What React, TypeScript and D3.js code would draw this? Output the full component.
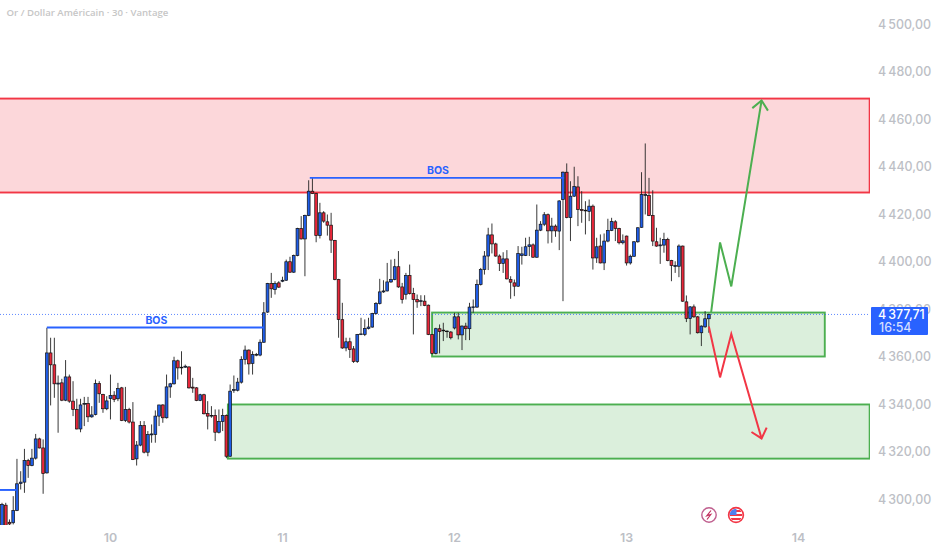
import * as d3 from 'd3';
import { useRef, useEffect } from 'react';

// 30 min gold candles (bar index 0 = left edge)
const opens = [
  4288.6, 4297.4, 4290.2, 4290.0, 4295.2, 4306.5, 4307.1, 4316.2, 4314.1, 4317.2,
  4325.3, 4321.5, 4311.0, 4361.5, 4356.5, 4348.4, 4348.9, 4341.6, 4351.4, 4341.2,
  4337.7, 4329.5, 4339.9, 4340.2, 4334.6, 4335.6, 4348.6, 4344.0, 4338.0, 4342.3,
  4343.7, 4342.2, 4346.8, 4333.1, 4337.7, 4332.4, 4316.9, 4322.7, 4330.9, 4319.7,
  4327.0, 4327.2, 4334.9, 4339.6, 4334.2, 4347.2, 4348.5, 4358.2, 4355.2, 4355.5,
  4355.6, 4347.1, 4346.8, 4341.5, 4343.9, 4336.0, 4334.9, 4335.2, 4328.1, 4332.6,
  4335.2, 4318.0, 4345.7, 4345.8, 4349.2, 4358.7, 4362.7, 4357.1, 4360.6, 4360.6,
  4366.0, 4378.7, 4390.7, 4388.2, 4391.0, 4391.7, 4392.1, 4399.9, 4395.5, 4402.5,
  4413.9, 4409.5, 4419.4, 4429.6, 4428.6, 4410.9, 4420.5, 4416.7, 4415.3, 4408.9,
  4392.4, 4375.5, 4363.6, 4366.2, 4363.2, 4357.9, 4369.3, 4369.3, 4371.8, 4372.4,
  4378.1, 4382.3, 4387.2, 4387.6, 4391.4, 4392.4, 4397.8, 4389.3, 4386.2, 4394.1,
  4386.5, 4384.0, 4383.2, 4383.3, 4381.6, 4369.3, 4361.3, 4371.7, 4370.8, 4370.5,
  4370.3, 4372.0, 4376.7, 4369.1, 4372.8, 4371.7, 4380.6, 4380.8, 4390.3, 4396.6,
  4402.3, 4411.2, 4407.4, 4402.3, 4399.2, 4401.1, 4392.4, 4391.0, 4389.6, 4402.5,
  4402.5, 4406.3, 4407.0, 4401.8, 4413.2, 4415.7, 4419.7, 4412.9, 4414.9, 4412.8,
  4426.1, 4437.6, 4418.5, 4427.5, 4431.4, 4421.9, 4421.3, 4421.1, 4423.3, 4401.5,
  4406.5, 4399.4, 4408.6, 4413.1, 4416.7, 4413.9, 4407.9, 4410.7, 4399.4, 4402.2,
  4408.3, 4414.4, 4427.8, 4427.8, 4419.4, 4408.3, 4406.6, 4406.9, 4409.3, 4400.4,
  4397.9, 4398.0, 4406.5, 4383.0, 4376.0, 4380.9, 4376.7, 4370.0, 4372.5, 4375.9,
];
const highs = [
  4298.4, 4298.4, 4291.4, 4301.2, 4316.9, 4311.7, 4321.1, 4316.9, 4321.1, 4327.4,
  4325.8, 4325.1, 4372.1, 4367.9, 4367.9, 4352.0, 4350.6, 4358.5, 4352.4, 4349.6,
  4342.2, 4342.2, 4343.0, 4343.0, 4339.1, 4350.3, 4349.6, 4344.3, 4343.3, 4352.4,
  4345.4, 4348.9, 4347.2, 4347.2, 4338.4, 4340.8, 4324.4, 4332.8, 4332.8, 4328.6,
  4331.4, 4337.3, 4339.6, 4339.9, 4352.4, 4348.9, 4359.9, 4358.7, 4362.2, 4356.6,
  4355.9, 4351.0, 4347.1, 4344.3, 4344.3, 4341.2, 4339.1, 4337.7, 4337.7, 4338.0,
  4335.6, 4348.2, 4352.0, 4351.0, 4360.1, 4364.6, 4363.0, 4362.2, 4361.5, 4367.2,
  4382.9, 4391.0, 4395.2, 4391.7, 4391.7, 4393.6, 4400.8, 4402.0, 4402.9, 4414.2,
  4419.1, 4419.7, 4434.2, 4435.2, 4428.9, 4424.7, 4421.2, 4419.8, 4420.5, 4409.1,
  4392.7, 4382.6, 4367.9, 4367.9, 4364.4, 4369.5, 4376.3, 4375.6, 4376.3, 4378.4,
  4382.9, 4392.7, 4392.1, 4399.4, 4400.8, 4401.1, 4404.4, 4391.0, 4395.2, 4398.7,
  4388.9, 4386.1, 4385.8, 4385.8, 4381.9, 4369.5, 4372.1, 4373.5, 4374.2, 4371.0,
  4370.7, 4378.4, 4378.4, 4373.1, 4374.2, 4382.6, 4384.0, 4392.4, 4397.3, 4404.4,
  4414.2, 4416.0, 4407.9, 4403.0, 4403.9, 4404.8, 4393.8, 4392.4, 4406.5, 4406.2,
  4410.0, 4410.4, 4407.6, 4424.0, 4417.0, 4420.8, 4420.2, 4418.4, 4415.6, 4425.8,
  4437.9, 4441.3, 4433.8, 4439.9, 4435.9, 4429.6, 4425.4, 4426.1, 4424.0, 4410.0,
  4411.4, 4411.8, 4418.0, 4418.4, 4417.4, 4414.2, 4411.4, 4410.9, 4402.9, 4408.6,
  4414.4, 4437.6, 4449.7, 4435.2, 4430.0, 4414.2, 4410.0, 4412.1, 4410.0, 4400.7,
  4400.1, 4407.2, 4406.7, 4385.7, 4381.2, 4381.9, 4377.0, 4373.1, 4379.1, 4378.1,
];
const lows = [
  4287.2, 4287.9, 4288.6, 4289.3, 4294.9, 4304.0, 4302.6, 4308.9, 4313.8, 4316.6,
  4321.3, 4302.2, 4310.7, 4339.4, 4342.6, 4327.9, 4341.2, 4341.2, 4340.5, 4334.9,
  4329.3, 4328.1, 4330.7, 4332.4, 4334.2, 4335.2, 4340.5, 4336.3, 4337.4, 4333.5,
  4340.8, 4341.2, 4332.8, 4332.4, 4331.8, 4316.4, 4314.1, 4322.2, 4319.2, 4318.0,
  4323.7, 4323.7, 4330.7, 4332.1, 4333.9, 4342.6, 4348.2, 4350.3, 4352.4, 4355.2,
  4346.5, 4344.7, 4341.2, 4341.2, 4335.6, 4329.3, 4334.2, 4324.4, 4327.6, 4328.6,
  4317.2, 4317.8, 4344.7, 4345.3, 4348.6, 4356.6, 4352.4, 4352.4, 4360.1, 4360.1,
  4365.8, 4378.4, 4384.7, 4386.1, 4388.9, 4391.3, 4391.9, 4395.2, 4395.2, 4402.2,
  4409.3, 4393.8, 4419.1, 4428.4, 4408.1, 4409.7, 4416.3, 4410.9, 4403.6, 4392.1,
  4367.9, 4363.2, 4362.2, 4359.4, 4357.3, 4357.3, 4369.0, 4368.6, 4371.4, 4372.1,
  4377.7, 4381.9, 4386.8, 4387.4, 4391.0, 4392.1, 4388.9, 4382.3, 4384.0, 4386.1,
  4369.3, 4380.5, 4381.2, 4381.2, 4369.0, 4360.9, 4360.9, 4361.3, 4366.5, 4367.9,
  4367.2, 4371.4, 4367.2, 4362.7, 4366.9, 4366.9, 4378.4, 4380.5, 4389.9, 4394.5,
  4396.4, 4403.4, 4402.0, 4396.0, 4395.2, 4392.4, 4384.3, 4385.4, 4389.3, 4398.7,
  4402.3, 4402.3, 4401.6, 4401.6, 4412.8, 4414.9, 4407.6, 4407.9, 4410.4, 4404.8,
  4383.3, 4418.2, 4408.6, 4427.2, 4414.9, 4416.3, 4411.4, 4417.0, 4396.6, 4399.4,
  4399.2, 4396.4, 4408.1, 4412.8, 4408.6, 4407.2, 4407.2, 4398.3, 4398.7, 4402.0,
  4407.9, 4414.2, 4419.8, 4419.1, 4406.5, 4406.2, 4399.0, 4403.7, 4400.1, 4391.7,
  4395.2, 4393.4, 4383.0, 4374.5, 4369.3, 4376.3, 4369.7, 4364.4, 4372.1, 4370.0,
];
const closes = [
  4297.7, 4288.6, 4289.5, 4295.2, 4306.4, 4307.1, 4316.2, 4314.1, 4317.2, 4325.3,
  4321.5, 4310.7, 4361.5, 4356.5, 4348.5, 4348.8, 4341.6, 4351.4, 4341.2, 4337.7,
  4329.5, 4339.6, 4340.2, 4334.6, 4335.4, 4348.6, 4344.3, 4338.0, 4341.3, 4343.6,
  4341.9, 4346.5, 4333.1, 4337.7, 4332.4, 4316.6, 4322.7, 4330.9, 4319.7, 4327.2,
  4327.4, 4334.9, 4339.6, 4334.2, 4347.2, 4348.5, 4358.2, 4355.2, 4355.5, 4355.9,
  4346.8, 4346.7, 4341.5, 4343.9, 4335.9, 4334.9, 4335.2, 4328.1, 4332.6, 4335.2,
  4318.0, 4345.4, 4346.1, 4349.2, 4358.7, 4362.7, 4356.9, 4360.8, 4360.8, 4366.0,
  4378.4, 4390.7, 4388.5, 4390.7, 4389.2, 4392.1, 4399.9, 4395.5, 4402.5, 4413.9,
  4409.5, 4419.4, 4429.6, 4428.6, 4410.9, 4420.5, 4417.0, 4415.3, 4409.0, 4392.4,
  4375.6, 4363.6, 4366.2, 4362.9, 4357.9, 4369.3, 4369.5, 4371.8, 4372.4, 4378.1,
  4382.3, 4387.2, 4387.6, 4391.4, 4392.4, 4397.8, 4389.3, 4384.0, 4394.1, 4386.5,
  4384.0, 4383.0, 4383.5, 4381.5, 4369.3, 4361.3, 4371.7, 4370.5, 4371.1, 4370.7,
  4367.9, 4376.7, 4369.1, 4372.8, 4371.7, 4380.8, 4380.9, 4390.3, 4396.6, 4402.3,
  4411.2, 4407.4, 4402.3, 4399.2, 4401.1, 4392.7, 4391.3, 4389.6, 4403.4, 4403.2,
  4406.2, 4407.0, 4401.8, 4413.2, 4415.7, 4419.7, 4412.9, 4414.9, 4412.9, 4425.5,
  4437.6, 4418.5, 4427.5, 4431.6, 4421.9, 4421.5, 4421.6, 4423.3, 4401.5, 4406.2,
  4399.4, 4408.6, 4413.1, 4416.8, 4413.9, 4407.9, 4408.7, 4399.4, 4402.2, 4408.3,
  4414.2, 4428.2, 4428.2, 4419.4, 4408.6, 4406.5, 4407.0, 4409.3, 4400.4, 4398.3,
  4398.3, 4406.5, 4383.3, 4376.0, 4380.9, 4376.7, 4370.0, 4372.8, 4375.9, 4377.71,
];

const priceTicks = [4500, 4480, 4460, 4440, 4420, 4400, 4380, 4360, 4340, 4320, 4300];
const dayTicks = [29, 75, 121, 167, 213];
const dayLabels = ['10', '11', '12', '13', '14'];
const lastPrice = 4377.71;

// drawn objects: [bar from, bar to, price top, price bottom]
const redZone = [-2, 232, 4468.6, 4429.05];
const greenZoneHigh = [115, 220, 4378.5, 4360];
const greenZoneLow = [60.4, 232, 4339.8, 4317];

// [bar from, bar to, price]
const bosLeft = [12, 70, 4372.2];
const bosRight = [82.3, 150.3, 4435.2];
const oldBos = [-2, 3.8, 4303.8];

const greenPath: [number, number][] = [[189.6, 4378.5], [192, 4408], [195, 4389.5], [203.1, 4467.8]];
const redPath: [number, number][] = [[189, 4372.6], [192, 4351.2], [195, 4369.5], [203.1, 4325.5]];

const BLUE = '#2962ff';
const RED = '#f23645';
const GREEN = '#4caf50';
const GREY = '#bdbfc6';
const FONT = 'Inter, "Liberation Sans", sans-serif';

const fmtPrice = (v: number) => {
    const [a, b] = v.toFixed(2).split('.');
    return `${a[0]}\u202f${a.slice(1)},${b}`;
};

export default function App() {
    const svgRef = useRef<SVGSVGElement>(null);

    useEffect(() => {
        if (!svgRef.current) return;
        const svg = d3.select(svgRef.current);
        svg.selectAll('*').remove();

        const paneW = 870;
        const paneH = 525;

        const x = d3.scaleLinear().domain([0, 213]).range([2, 798.6]);
        const y = d3.scaleLinear().domain([4500, 4300]).range([24, 499]);

        svg.append('defs').append('clipPath').attr('id', 'pane')
            .append('rect').attr('width', paneW).attr('height', paneH);

        const pane = svg.append('g').attr('clip-path', 'url(#pane)');

        // zones
        const zone = (z: number[], color: string) => {
            pane.append('rect')
                .attr('x', x(z[0]))
                .attr('y', y(z[2]))
                .attr('width', x(z[1]) - x(z[0]))
                .attr('height', y(z[3]) - y(z[2]))
                .attr('fill', color)
                .attr('fill-opacity', 0.2)
                .attr('stroke', color)
                .attr('stroke-width', 1.9);
        };
        zone(redZone, RED);
        zone(greenZoneHigh, GREEN);
        zone(greenZoneLow, GREEN);

        // last price line
        pane.append('line')
            .attr('x1', 0).attr('x2', paneW)
            .attr('y1', y(lastPrice)).attr('y2', y(lastPrice))
            .attr('stroke', BLUE).attr('stroke-opacity', 0.75)
            .attr('stroke-width', 1).attr('stroke-dasharray', '1 2');

        // candles
        const bars = d3.range(opens.length);
        pane.append('g').selectAll('line').data(bars).enter().append('line')
            .attr('x1', i => x(i)).attr('x2', i => x(i))
            .attr('y1', i => y(highs[i])).attr('y2', i => y(lows[i]))
            .attr('stroke', '#222').attr('stroke-width', 0.9);
        pane.append('g').selectAll('rect').data(bars).enter().append('rect')
            .attr('x', i => x(i) - 1.4)
            .attr('width', 2.8)
            .attr('y', i => y(Math.max(opens[i], closes[i])))
            .attr('height', i => Math.max(0.6, Math.abs(y(opens[i]) - y(closes[i]))))
            .attr('fill', i => (closes[i] >= opens[i] ? '#1f5de8' : '#e8273a'))
            .attr('stroke', '#111')
            .attr('stroke-width', 0.7);

        // BOS lines
        [bosLeft, bosRight, oldBos].forEach(b => {
            pane.append('line')
                .attr('x1', x(b[0])).attr('x2', x(b[1]))
                .attr('y1', y(b[2])).attr('y2', y(b[2]))
                .attr('stroke', BLUE).attr('stroke-width', 1.9);
        });
        [bosLeft, bosRight].forEach(b => {
            pane.append('text')
                .attr('x', (x(b[0]) + x(b[1])) / 2 + 1)
                .attr('y', y(b[2]) - 4)
                .attr('text-anchor', 'middle')
                .attr('font-family', FONT)
                .attr('font-size', 10.5)
                .attr('font-weight', 700)
                .attr('fill', BLUE)
                .text('BOS');
        });

        // projection arrows
        const line = d3.line<[number, number]>().x(d => x(d[0])).y(d => y(d[1]));
        const arrow = (path: [number, number][], color: string) => {
            pane.append('path').attr('d', line(path))
                .attr('fill', 'none').attr('stroke', color)
                .attr('stroke-width', 2).attr('stroke-linejoin', 'miter');
            const [p0, p1] = path.slice(-2);
            const angle = Math.atan2(y(p1[1]) - y(p0[1]), x(p1[0]) - x(p0[0]));
            const wing = (a: number) => [
                x(p1[0]) - 12 * Math.cos(angle + a),
                y(p1[1]) - 12 * Math.sin(angle + a),
            ];
            const head = d3.line()([
                wing(0.72) as [number, number],
                [x(p1[0]), y(p1[1])],
                wing(-0.72) as [number, number],
            ]);
            pane.append('path').attr('d', head)
                .attr('fill', 'none').attr('stroke', color).attr('stroke-width', 2);
        };
        arrow(greenPath, GREEN);
        arrow(redPath, RED);

        // header
        svg.append('text')
            .attr('x', 6.5).attr('y', 16)
            .attr('font-family', '"Open Sans", sans-serif')
            .attr('font-size', 9.6)
            .attr('font-weight', 600)
            .attr('fill', '#c6c6c6')
            .text('Or / Dollar Américain · 30 · Vantage');

        // price axis
        svg.append('g').selectAll('text').data(priceTicks).enter().append('text')
            .attr('x', 878)
            .attr('y', d => y(d) + 4.5)
            .attr('font-family', FONT)
            .attr('font-size', 12.4)
            .attr('font-weight', 500)
            .attr('fill', GREY)
            .text(d => fmtPrice(d));

        // time axis
        svg.append('g').selectAll('text').data(dayTicks).enter().append('text')
            .attr('x', d => x(d))
            .attr('y', 542)
            .attr('text-anchor', 'middle')
            .attr('font-family', FONT)
            .attr('font-size', 12.4)
            .attr('font-weight', 600)
            .attr('fill', GREY)
            .text((_, i) => dayLabels[i]);

        // last price tag
        svg.append('rect')
            .attr('x', 871).attr('y', 307).attr('width', 57).attr('height', 28)
            .attr('rx', 1)
            .attr('fill', BLUE);
        svg.append('text')
            .attr('x', 878).attr('y', 319)
            .attr('font-family', FONT).attr('font-size', 12.4).attr('font-weight', 500)
            .attr('fill', '#fff')
            .text(fmtPrice(lastPrice));
        svg.append('text')
            .attr('x', 879).attr('y', 332)
            .attr('font-family', FONT).attr('font-size', 12.4).attr('font-weight', 500)
            .attr('fill', '#d4deff')
            .text('16:54');

        // event icons
        const icons = svg.append('g');
        icons.append('circle').attr('cx', 709).attr('cy', 515).attr('r', 7.2)
            .attr('fill', '#fff').attr('stroke', '#c0608f').attr('stroke-width', 1.4);
        icons.append('path').attr('d', 'M711 510.5 L706.8 515.8 L710.8 514.5 L707 519.5')
            .attr('fill', 'none').attr('stroke', '#c2305f').attr('stroke-width', 1.2);

        icons.append('clipPath').attr('id', 'flag')
            .append('circle').attr('cx', 736).attr('cy', 515).attr('r', 6.3);
        const flag = icons.append('g').attr('clip-path', 'url(#flag)');
        flag.append('rect').attr('x', 729).attr('y', 508).attr('width', 14).attr('height', 14).attr('fill', '#fff');
        d3.range(3).forEach(k => {
            flag.append('rect').attr('x', 729).attr('y', 510 + k * 4).attr('width', 14).attr('height', 2).attr('fill', RED);
        });
        flag.append('rect').attr('x', 729).attr('y', 508).attr('width', 7.5).attr('height', 7).attr('fill', '#4f7ff0');
        icons.append('circle').attr('cx', 736).attr('cy', 515).attr('r', 7.4)
            .attr('fill', 'none').attr('stroke', RED).attr('stroke-width', 1.6);
    }, []);

    return <svg ref={svgRef} width={932} height={550} style={{ position: 'absolute', left: 0, top: 0, background: '#fff' }} />;
}
